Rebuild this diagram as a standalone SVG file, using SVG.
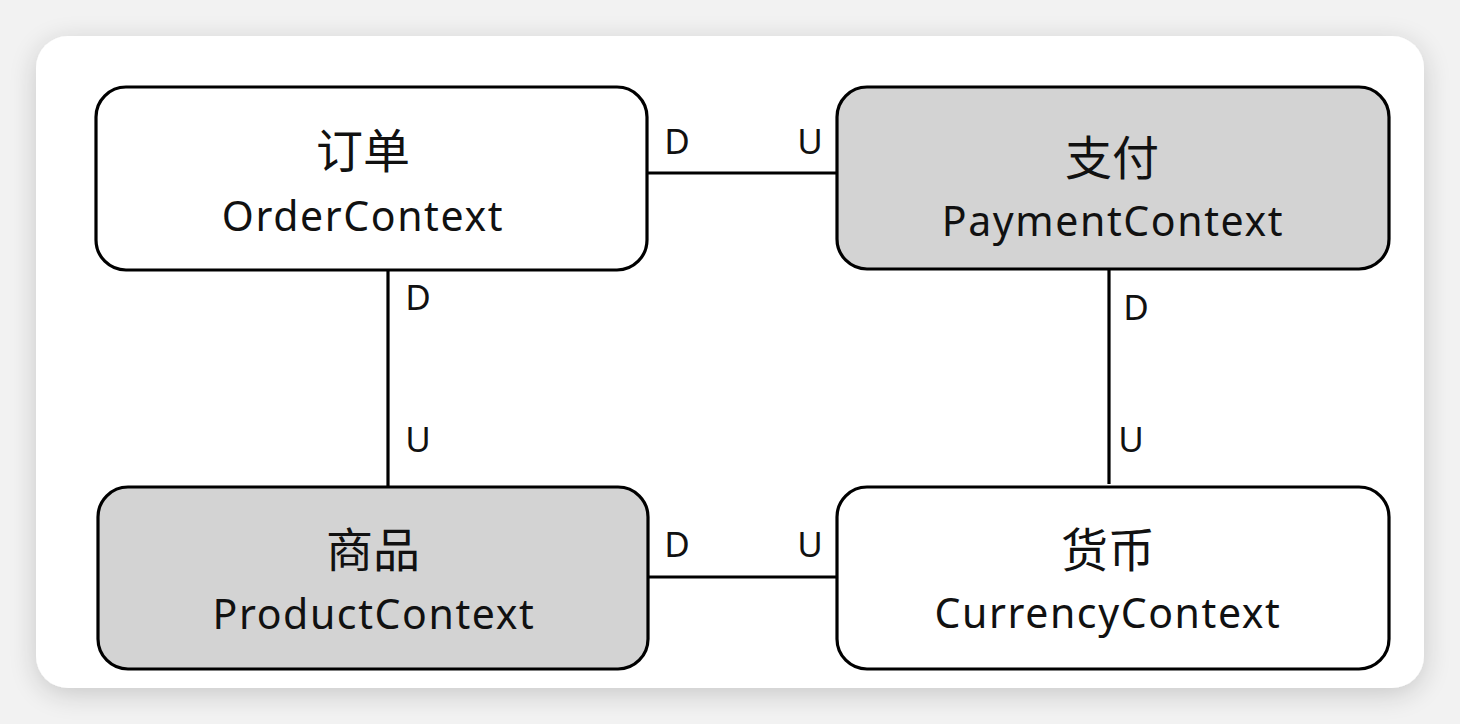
<svg xmlns="http://www.w3.org/2000/svg" width="1460" height="724" viewBox="0 0 1460 724">
<defs>
<filter id="sh" x="-10%" y="-10%" width="120%" height="125%">
<feGaussianBlur in="SourceAlpha" stdDeviation="14"/>
<feOffset dy="6"/>
<feComponentTransfer><feFuncA type="linear" slope="0.18"/></feComponentTransfer>
<feMerge><feMergeNode/><feMergeNode in="SourceGraphic"/></feMerge>
</filter>
</defs>
<style>
.box{stroke:#000;stroke-width:3.2}
.w{fill:#fff}
.g{fill:#d3d3d3}
.cn{font-family:"Noto Sans CJK SC","Noto Sans",sans-serif;font-size:47px;fill:#111;text-anchor:middle}
.en{font-family:"Noto Sans","Open Sans",sans-serif;font-size:41px;letter-spacing:1.6px;fill:#111;text-anchor:middle}
.lb{font-family:"Noto Sans","Open Sans",sans-serif;font-size:35px;fill:#111;text-anchor:middle}
.c{stroke:#000;stroke-width:3.2;fill:none}
</style>
<rect x="0" y="0" width="1460" height="724" fill="#f2f2f2"/>
<rect x="36" y="36" width="1388" height="652" rx="32" fill="#fff" filter="url(#sh)"/>
<g id="connectors">
<line class="c" x1="647" y1="173" x2="837" y2="173"/>
<line class="c" x1="388" y1="270" x2="388" y2="486"/>
<line class="c" x1="1109" y1="270" x2="1109" y2="484"/>
<line class="c" x1="648" y1="577" x2="837" y2="577"/>
<text class="lb" x="677" y="154">D</text>
<text class="lb" x="810" y="154">U</text>
<text class="lb" x="418" y="310">D</text>
<text class="lb" x="418" y="452">U</text>
<text class="lb" x="1136" y="320">D</text>
<text class="lb" x="1131" y="452">U</text>
<text class="lb" x="677" y="557">D</text>
<text class="lb" x="810" y="557">U</text>
</g>
<g id="order">
<rect class="box w" x="96" y="87" width="551" height="183" rx="30"/>
<text class="cn" x="363" y="168">订单</text>
<text class="en" x="363" y="231">OrderContext</text>
</g>
<g id="payment">
<rect class="box g" x="837" y="87" width="552" height="182" rx="30"/>
<text class="cn" x="1112" y="175">支付</text>
<text class="en" x="1113" y="236">PaymentContext</text>
</g>
<g id="product">
<rect class="box g" x="98" y="487" width="550" height="182" rx="30"/>
<text class="cn" x="373" y="567">商品</text>
<text class="en" x="374" y="629">ProductContext</text>
</g>
<g id="currency">
<rect class="box w" x="837" y="487" width="552" height="182" rx="30"/>
<text class="cn" x="1108" y="567">货币</text>
<text class="en" x="1108" y="628">CurrencyContext</text>
</g>
</svg>
